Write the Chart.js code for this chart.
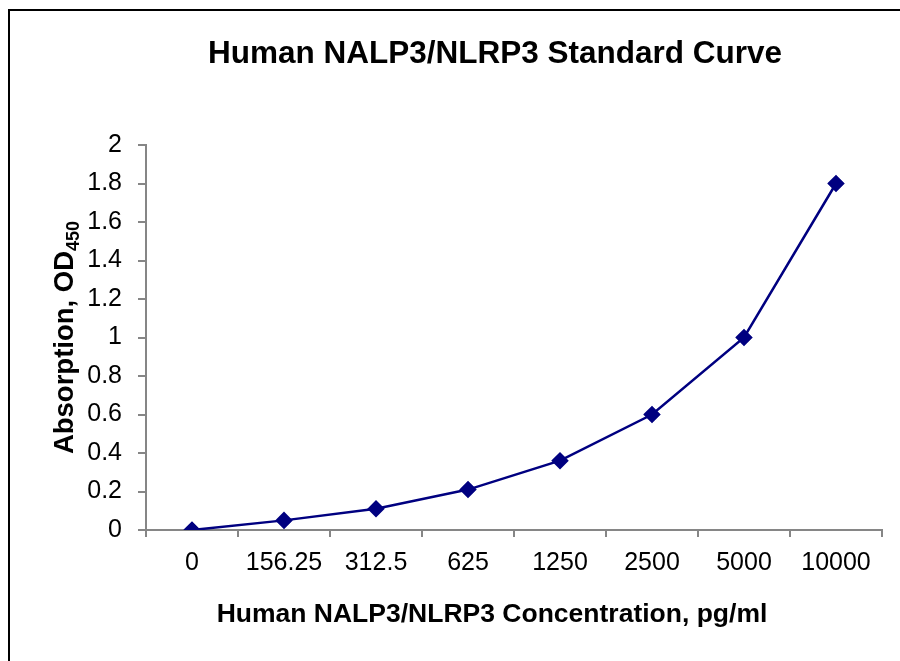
<!DOCTYPE html>
<html>
  <head>
    <meta charset="UTF-8">
    <title>Human NALP3/NLRP3 Standard Curve</title>
    <script src="https://cdn.jsdelivr.net/npm/chart.js@4.4.1/dist/chart.umd.min.js"></script>
    <style>
      body { margin: 0; background: #fff; }
      #wrap { position: relative; width: 900px; height: 661px; overflow: hidden; }
      #frame { position: absolute; left: 8px; top: 9px; width: 1000px; height: 1000px;
               border-left: 2px solid #000; border-top: 2px solid #000; }
      #curveChart { position: absolute; left: 0; top: 0; }
    </style>
  </head>
  <body>
    <div id="wrap">
      <div id="frame"></div>
      <canvas id="curveChart" width="900" height="661"></canvas>
    </div>

    <script>
      const TITLE = 'Human NALP3/NLRP3 Standard Curve';
      const X_TITLE = 'Human NALP3/NLRP3 Concentration, pg/ml';
      const Y_TITLE = 'Absorption, OD';
      const Y_TITLE_SUB = '450';

      const concentrations = ['0', '156.25', '312.5', '625', '1250', '2500', '5000', '10000'];
      const absorbance = [0.0, 0.05, 0.11, 0.21, 0.36, 0.60, 1.00, 1.80];
      const yTicks = [0, 0.2, 0.4, 0.6, 0.8, 1, 1.2, 1.4, 1.6, 1.8, 2];

      const FONT = "Arial, 'Liberation Sans', sans-serif";
      const AXIS_GREY = '#868686';
      const NAVY = '#000080';

      // titles drawn by hand so the y title can carry the OD subscript
      const titlesPlugin = {
        id: 'titles',
        afterDraw(chart) {
          const ctx = chart.ctx;
          const area = chart.chartArea;
          ctx.save();
          ctx.fillStyle = '#000';
          ctx.textBaseline = 'alphabetic';

          ctx.font = 'bold 31.5px ' + FONT;
          ctx.textAlign = 'center';
          ctx.fillText(TITLE, 495, 63);

          ctx.font = 'bold 26.5px ' + FONT;
          ctx.fillText(X_TITLE, 492, 622);

          // rotated y title with subscript
          ctx.translate(73, (area.top + area.bottom) / 2);
          ctx.rotate(-Math.PI / 2);
          ctx.font = 'bold 27.5px ' + FONT;
          const mainW = ctx.measureText(Y_TITLE).width;
          ctx.font = 'bold 18px ' + FONT;
          const subW = ctx.measureText(Y_TITLE_SUB).width;
          const start = -(mainW + subW) / 2;
          ctx.textAlign = 'left';
          ctx.font = 'bold 27.5px ' + FONT;
          ctx.fillText(Y_TITLE, start, 0);
          ctx.font = 'bold 18px ' + FONT;
          ctx.fillText(Y_TITLE_SUB, start + mainW, 6);
          ctx.restore();
        }
      };

      const ctx = document.getElementById('curveChart').getContext('2d');

      const chart = new Chart(ctx, {
        type: 'line',
        data: {
          labels: concentrations,
          datasets: [{
            data: absorbance,
            borderColor: NAVY,
            backgroundColor: NAVY,
            borderWidth: 2.5,
            pointStyle: 'rectRot',
            pointRadius: 7,
            pointHoverRadius: 7,
            tension: 0,
            fill: false
          }]
        },
        options: {
          responsive: false,
          animation: false,
          layout: { padding: { top: 145, right: 18, left: 0, bottom: 0 } },
          plugins: {
            legend: { display: false },
            title: { display: false },
            tooltip: { enabled: false }
          },
          scales: {
            x: {
              type: 'category',
              offset: true,
              afterFit(scale) { scale.height = 131; },
              grid: {
                offset: true,
                drawOnChartArea: false,
                drawTicks: true,
                tickLength: 7,
                color: AXIS_GREY,
                lineWidth: 2
              },
              border: { display: true, color: AXIS_GREY, width: 2 },
              ticks: {
                color: '#000',
                font: { family: FONT, size: 25 },
                padding: 11,
                maxRotation: 0,
                autoSkip: false
              }
            },
            y: {
              min: 0,
              max: 2,
              afterFit(scale) { scale.width = 146; },
              afterBuildTicks(scale) { scale.ticks = yTicks.map(v => ({ value: v })); },
              grid: {
                drawOnChartArea: false,
                drawTicks: true,
                tickLength: 8,
                color: AXIS_GREY,
                lineWidth: 2
              },
              border: { display: true, color: AXIS_GREY, width: 2 },
              ticks: {
                color: '#000',
                font: { family: FONT, size: 25 },
                padding: 16,
                callback: v => String(+v.toFixed(1))
              }
            }
          }
        },
        plugins: [titlesPlugin]
      });
    </script>
  </body>
</html>
